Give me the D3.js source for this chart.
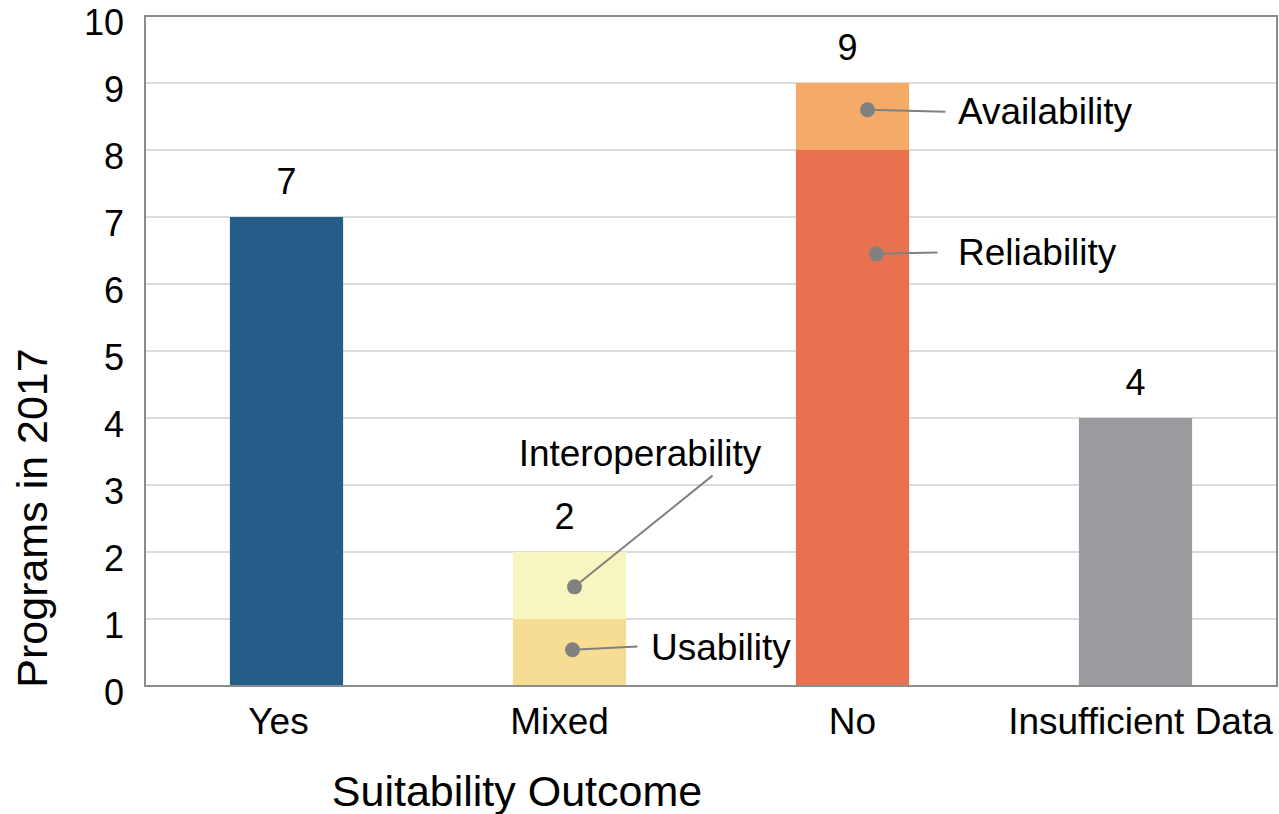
<!DOCTYPE html>
<html><head><meta charset="utf-8">
<script src="https://cdn.jsdelivr.net/npm/d3@7"></script>
<style>body{margin:0;background:#fff}svg{display:block}text{font-family:"Liberation Sans",Arial,sans-serif;fill:#000}</style>
</head><body><svg id="c" width="1279" height="814"></svg>
<script>
const categories = ["Yes", "Mixed", "No", "Insufficient Data"];
const lowerValues = [7, 1, 8, 4];
const upperValues = [0, 1, 1, 0];
const totals = [7, 2, 9, 4];
const yTicks = [0,1,2,3,4,5,6,7,8,9,10];
const lowerColors = ["#265e8a", "#f7dc94", "#e87150", "#999b9e"];
const upperColors = ["#265e8a", "#f7f6c0", "#f4ab68", "#999b9e"];
const segmentLabels = ["Usability", "Interoperability", "Reliability", "Availability"];

const svg = d3.select("#c");
const m = {l:145, r:1277, t:16, b:686};
const x = d3.scaleBand().domain(categories).range([m.l, m.r]).paddingInner(0.6).paddingOuter(0.3);
const y = d3.scaleLinear().domain([0,10]).range([m.b, m.t]);
const labelShift = {"Yes":-8, "Mixed":-10, "No":0, "Insufficient Data":5};
const valueShift = {"Yes":0, "Mixed":-5, "No":-5, "Insufficient Data":0};

// gridlines
svg.append("g").selectAll("line").data(yTicks.slice(1,-1)).join("line")
  .attr("x1", m.l).attr("x2", m.r).attr("y1", d=>y(d)).attr("y2", d=>y(d))
  .attr("stroke", "#dcdcdc").attr("stroke-width", 2);

// bars
const data = categories.map((c,i)=>({c, lo:lowerValues[i], up:upperValues[i], tot:totals[i], i}));
svg.append("g").selectAll("rect").data(data).join("rect")
  .attr("x", d=>x(d.c)).attr("width", x.bandwidth())
  .attr("y", d=>y(d.lo)).attr("height", d=>y(0)-y(d.lo))
  .attr("fill", d=>lowerColors[d.i]);
svg.append("g").selectAll("rect").data(data.filter(d=>d.up>0)).join("rect")
  .attr("x", d=>x(d.c)).attr("width", x.bandwidth())
  .attr("y", d=>y(d.lo+d.up)).attr("height", d=>y(d.lo)-y(d.lo+d.up))
  .attr("fill", d=>upperColors[d.i]);

// frame
svg.append("rect").attr("x", m.l).attr("y", m.t).attr("width", m.r-m.l).attr("height", m.b-m.t)
  .attr("fill","none").attr("stroke","#8c8c8c").attr("stroke-width",2);

// value labels
svg.append("g").selectAll("text").data(data).join("text")
  .attr("x", d=>x(d.c)+x.bandwidth()/2+valueShift[d.c]).attr("y", d=>y(d.tot)-23)
  .attr("text-anchor","middle").attr("font-size", 36).text(d=>d.tot);

// y tick labels
svg.append("g").selectAll("text").data(yTicks).join("text")
  .attr("x", 124).attr("y", d=>y(d)+19).attr("text-anchor","end")
  .attr("font-size", 36).text(d=>d);

// x tick labels
svg.append("g").selectAll("text").data(categories).join("text")
  .attr("x", d=>x(d)+x.bandwidth()/2 + labelShift[d]).attr("y", 734)
  .attr("text-anchor","middle").attr("font-size", 37).text(d=>d);

// axis titles
svg.append("text").attr("x", 517).attr("y", 806).attr("text-anchor","middle").attr("font-size", 43).text("Suitability Outcome");
svg.append("text").attr("transform","translate(47,518) rotate(-90)").attr("text-anchor","middle").attr("font-size", 43).text("Programs in 2017");

// annotations
const cx = c => x(c)+x.bandwidth()/2;
const ann = [
  {label:segmentLabels[0], px:cx("Mixed")+3, py:y(0.54), ex:cx("Mixed")+68, ey:y(0.59), tx:651, ty:660, anchor:"start"},
  {label:segmentLabels[1], px:cx("Mixed")+5, py:y(1.48), ex:cx("Mixed")+143, ey:y(3.14), tx:640, ty:466, anchor:"middle"},
  {label:segmentLabels[2], px:cx("No")+24, py:y(6.45), ex:cx("No")+85, ey:y(6.47), tx:958, ty:265, anchor:"start"},
  {label:segmentLabels[3], px:cx("No")+15, py:y(8.6), ex:cx("No")+93, ey:y(8.57), tx:958, ty:124, anchor:"start"}
];
const ag = svg.append("g");
ag.selectAll("line").data(ann).join("line")
  .attr("x1", d=>d.px).attr("y1", d=>d.py).attr("x2", d=>d.ex).attr("y2", d=>d.ey)
  .attr("stroke","#808080").attr("stroke-width",2);
ag.selectAll("circle").data(ann).join("circle")
  .attr("cx", d=>d.px).attr("cy", d=>d.py).attr("r", 7.5).attr("fill","#808080");
ag.selectAll("text").data(ann).join("text")
  .attr("x", d=>d.tx).attr("y", d=>d.ty).attr("text-anchor", d=>d.anchor)
  .attr("font-size", 37).text(d=>d.label);
</script></body></html>
